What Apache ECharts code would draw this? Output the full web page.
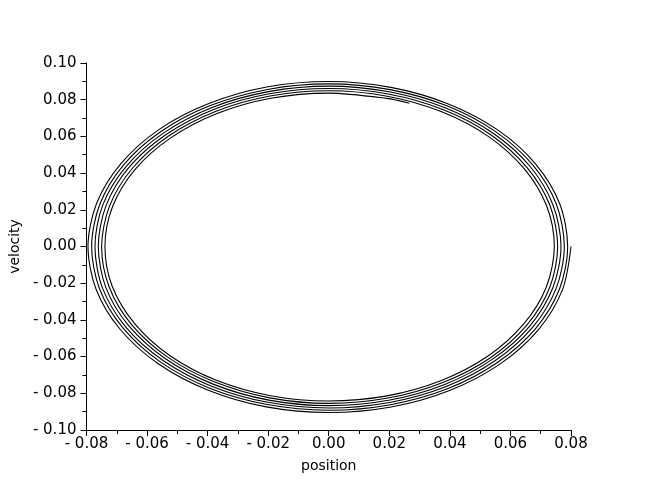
<!DOCTYPE html>
<html>
<head>
<meta charset="utf-8">
<script src="https://cdn.jsdelivr.net/npm/echarts@6/dist/echarts.min.js"></script>
<style>
  html, body { margin: 0; padding: 0; background: #fff; }
  #chart { width: 654px; height: 491px; }
</style>
</head>
<body>
<div id="chart"></div>
<script>
const position = [
  0.0800, 0.0772, 0.0692, 0.0565, 0.0399, 0.0206, 0.0000, -0.0206, -0.0398, -0.0563, -0.0689, -0.0768,
  -0.0795, -0.0767, -0.0687, -0.0561, -0.0396, -0.0205, 0.0000, 0.0205, 0.0395, 0.0559, 0.0684, 0.0763,
  0.0789, 0.0762, 0.0683, 0.0557, 0.0394, 0.0204, 0.0000, -0.0203, -0.0393, -0.0555, -0.0679, -0.0757,
  -0.0783, -0.0756, -0.0678, -0.0553, -0.0391, -0.0202, 0.0000, 0.0202, 0.0390, 0.0551, 0.0675, 0.0752,
  0.0778, 0.0751, 0.0673, 0.0549, 0.0388, 0.0201, 0.0000, -0.0201, -0.0387, -0.0547, -0.0670, -0.0747,
  -0.0772, -0.0746, -0.0668, -0.0545, -0.0385, -0.0199, 0.0000, 0.0199, 0.0384, 0.0543, 0.0665, 0.0741,
  0.0767, 0.0740, 0.0663, 0.0541, 0.0383, 0.0198, 0.0000, -0.0198, -0.0382, -0.0539, -0.0660, -0.0736,
  -0.0761, -0.0735, -0.0659, -0.0537, -0.0380, -0.0196, 0.0000, 0.0196, 0.0379, 0.0536, 0.0655, 0.0731,
  0.0756, 0.0730, 0.0654, 0.0534, 0.0377, 0.0195, 0.0000, -0.0195, -0.0376, -0.0532, -0.0651, -0.0725,
  -0.0750, -0.0724, -0.0649, -0.0530, -0.0374, -0.0194, 0.0000, 0.0193, 0.0373, 0.0528, 0.0646, 0.0720,
  0.0745, 0.0719, 0.0644, 0.0526, 0.0372, 0.0192, 0.0000, -0.0192, -0.0371, -0.0524, -0.0641, -0.0715,
  -0.0739, -0.0714, -0.0640, -0.0522, -0.0369, -0.0191, 0.0000, 0.0191, 0.0266
];
const velocity = [
  0.0000, -0.0235, -0.0454, -0.0641, -0.0785, -0.0875, -0.0905, -0.0874, -0.0783, -0.0639, -0.0451, -0.0234,
  0.0000, 0.0233, 0.0450, 0.0637, 0.0779, 0.0869, 0.0899, 0.0867, 0.0777, 0.0634, 0.0448, 0.0232,
  0.0000, -0.0232, -0.0447, -0.0632, -0.0774, -0.0862, -0.0892, -0.0861, -0.0772, -0.0630, -0.0445, -0.0230,
  0.0000, 0.0230, 0.0444, 0.0628, 0.0768, 0.0856, 0.0886, 0.0855, 0.0767, 0.0626, 0.0442, 0.0229,
  0.0000, -0.0228, -0.0441, -0.0623, -0.0763, -0.0850, -0.0880, -0.0849, -0.0761, -0.0621, -0.0439, -0.0227,
  0.0000, 0.0227, 0.0438, 0.0619, 0.0758, 0.0844, 0.0874, 0.0843, 0.0756, 0.0617, 0.0436, 0.0225,
  0.0000, -0.0225, -0.0435, -0.0614, -0.0752, -0.0838, -0.0867, -0.0837, -0.0750, -0.0612, -0.0433, -0.0224,
  0.0000, 0.0224, 0.0432, 0.0610, 0.0747, 0.0832, 0.0861, 0.0831, 0.0745, 0.0608, 0.0430, 0.0222,
  0.0000, -0.0222, -0.0429, -0.0606, -0.0741, -0.0826, -0.0855, -0.0825, -0.0739, -0.0603, -0.0426, -0.0221,
  0.0000, 0.0220, 0.0425, 0.0601, 0.0736, 0.0820, 0.0849, 0.0819, 0.0734, 0.0599, 0.0423, 0.0219,
  0.0000, -0.0219, -0.0422, -0.0597, -0.0730, -0.0814, -0.0842, -0.0813, -0.0729, -0.0595, -0.0420, -0.0217,
  0.0000, 0.0217, 0.0419, 0.0592, 0.0725, 0.0808, 0.0836, 0.0807, 0.0781
];

const xRange = [-0.08, 0.08];
const yRange = [-0.1, 0.1];
const tickStep = 0.02;

const points = position.map((p, i) => [p, velocity[i]]);

// "- 0.08" style labels, like the original plot
function fmt(v) {
  if (Math.abs(v) < 1e-9) return "0.00";
  return v < 0 ? "- " + (-v).toFixed(2) : v.toFixed(2);
}

const fontFamily = "DejaVu Sans";

function axisCommon(name, gap) {
  return {
    type: "value",
    name: name,
    nameLocation: "middle",
    nameGap: gap,
    nameTextStyle: { color: "#000", fontSize: 14, fontFamily: fontFamily },
    interval: tickStep,
    axisLine: { onZero: false, lineStyle: { color: "#000", width: 1 } },
    axisTick: { length: 6, lineStyle: { color: "#000" } },
    minorTick: { show: true, splitNumber: 2, length: 4, lineStyle: { color: "#000" } },
    splitLine: { show: false },
    axisLabel: { color: "#000", fontSize: 15, fontFamily: fontFamily, formatter: fmt },
  };
}

let option = {
  animation: false,
  backgroundColor: "#fff",
  grid: { left: 81, right: 83, top: 63, bottom: 61 },
  xAxis: Object.assign(axisCommon("position", 29), {
    min: xRange[0],
    max: xRange[1],
  }),
  yAxis: Object.assign(axisCommon("velocity", 62), {
    min: yRange[0],
    max: yRange[1],
  }),
  series: [
    {
      type: "line",
      data: points,
      showSymbol: false,
      smooth: 0.3,
      lineStyle: { color: "#000", width: 1.1 },
    },
  ],
};
option.xAxis.axisLabel.margin = 7;
option.yAxis.axisLabel.margin = 10;

let chart = echarts.init(document.getElementById("chart"));
chart.setOption(option);
</script>
</body>
</html>
